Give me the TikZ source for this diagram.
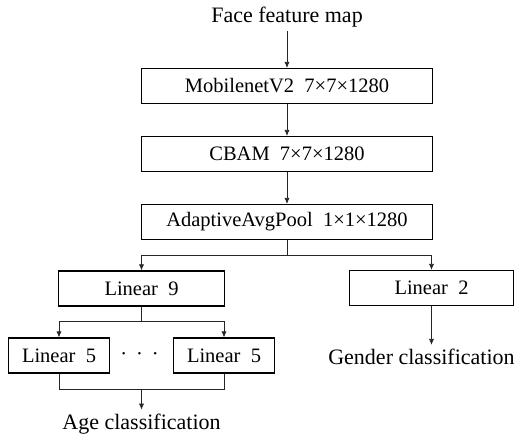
\documentclass[tikz,border=0pt]{standalone}
\usepackage{fontspec}
\setmainfont{Liberation Serif}
\usetikzlibrary{positioning,arrows.meta}

\begin{document}
\begin{tikzpicture}[node distance={68pt}, box/.style = {draw, line width=1.1pt, minimum height=35pt, inner sep=0pt}, txt/.style = {inner sep=4pt, font=\fontsize{22}{26}\selectfont}, link/.style = {line width=0.7pt, draw=black!85}, tip/.style = {-{Latex[length=6pt,width=5pt]}}, on grid=true, font=\fontsize{20.5}{24}\selectfont]
      \useasboundingbox (0,0) rectangle (531pt,-437pt);

      \node[txt] (face) at (287pt,-17pt) {Face feature map};
      \node[box,minimum width=291pt] (mob) [below=69pt of face] {MobilenetV2\ \ 7×7×1280};
      \node[box,minimum width=291pt] (cbam) [below=of mob] {CBAM\ \ 7×7×1280};
      \node[box,minimum width=291pt] (pool) [below=of cbam] {AdaptiveAvgPool\ \ 1×1×1280};

      \node[box,minimum width=166pt] (lin9) [below left=66.5pt and 145.5pt of pool] {Linear\ \ 9};
      \node[box,minimum width=164pt] (lin2) [below right=66pt and 144.5pt of pool] {Linear\ \ 2};

      \node[box,minimum width=101pt] (lin5a) [below left=67pt and 82.5pt of lin9] {Linear\ \ 5};
      \node[box,minimum width=101pt] (lin5b) [below right=67pt and 82.5pt of lin9] {Linear\ \ 5};
      \node[inner sep=2pt] (dots) [below left=68pt and 2pt of lin9] {·\hspace{9pt}·\hspace{9pt}·};

      \node[txt] (age) [below=135.5pt of lin9] {Age classification};
      \node[txt] (gender) [below left=69pt and 10pt of lin2] {Gender classification};
      \path (lin5a.south) ++(0,-16pt) coordinate (m1);
      \path (lin9.south |- m1) coordinate (m2);

      \draw[link,tip] (face) -- (mob);
      \draw[link,tip] (mob) -- (cbam);
      \draw[link,tip] (cbam) -- (pool);

      \draw[link,tip] (pool.south) -- ++(0,-15pt) -| (lin9.north);
      \draw[link,tip] (pool.south) -- ++(0,-15pt) -| (lin2.north);

      \draw[link,tip] (lin2.south) -- (gender.north -| lin2.south);

      \draw[link,tip] (lin9.south) -- ++(0,-15pt) -| (lin5a.north);
      \draw[link,tip] (lin9.south) -- ++(0,-15pt) -| (lin5b.north);

      \draw[link] (lin5a.south) -- (m1) -| (lin5b.south);
      \draw[link,tip] (m2) -- (age);
    \end{tikzpicture}
\end{document}
